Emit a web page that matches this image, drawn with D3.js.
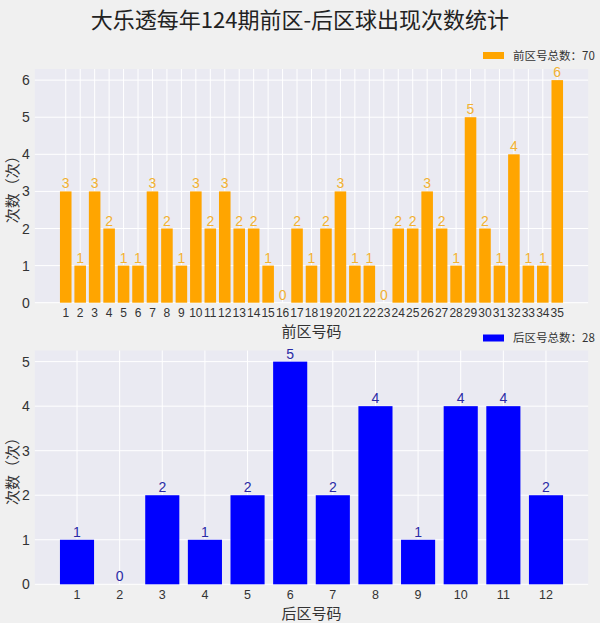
<!DOCTYPE html>
<html><head><meta charset="utf-8">
<script src="https://cdn.jsdelivr.net/npm/d3@7"></script>
<style>
html,body{margin:0;padding:0;background:#f0f0f0;}
svg{display:block;font-family:"Noto Sans CJK SC","Noto Sans",sans-serif;}
.num{font-family:"Liberation Sans","Noto Sans",sans-serif;}
</style></head>
<body>
<svg id="chart" width="600" height="623"></svg>
<script>
const title = "大乐透每年124期前区-后区球出现次数统计";
const frontNumbers = d3.range(1, 36);
const frontCounts = [3,1,3,2,1,1,3,2,1,3,2,3,2,2,1,0,2,1,2,3,1,1,0,2,2,3,2,1,5,2,1,4,1,1,6];
const backNumbers = d3.range(1, 13);
const backCounts = [1,0,2,1,2,5,2,4,1,4,4,2];
const frontYTicks = [0,1,2,3,4,5,6];
const backYTicks = [0,1,2,3,4,5];
const frontLegend = "前区号总数：70";
const backLegend = "后区号总数：28";
const frontXLabel = "前区号码";
const backXLabel = "后区号码";
const yLabel = "次数（次）";

const svg = d3.select("#chart");
svg.append("rect").attr("width",600).attr("height",623).attr("fill","#f0f0f0");
svg.append("text").attr("x",300).attr("y",28).attr("text-anchor","middle")
  .attr("font-size",22).attr("fill","#222").text(title);

function panel(cfg){
  const {nums, counts, yTicks, top, bottom, left, right, color, labelColor, legend, legendY, xLabel, xLabelY, tickY, tickSize, ymax} = cfg;
  const g = svg.append("g");
  const n = nums.length;
  const lo = 1 - 0.4, hi = n + 0.4, m = (hi - lo) * 0.05;
  const x = d3.scaleLinear().domain([lo - m, hi + m]).range([left, right]);
  const y = d3.scaleLinear().domain([0, ymax * 1.05]).range([bottom, top]);
  g.append("rect").attr("x",left).attr("y",top).attr("width",right-left).attr("height",bottom-top).attr("fill","#eaeaf2");
  g.selectAll(".hg").data(yTicks).join("line")
    .attr("x1",left).attr("x2",right).attr("y1",d=>y(d)).attr("y2",d=>y(d))
    .attr("stroke","#fff").attr("stroke-width",1);
  g.selectAll(".vg").data(nums).join("line")
    .attr("x1",d=>x(d)).attr("x2",d=>x(d)).attr("y1",top).attr("y2",bottom)
    .attr("stroke","#fff").attr("stroke-width",1);
  const bw = x(0.8) - x(0);
  g.selectAll(".bar").data(counts).join("rect")
    .attr("x",(d,i)=>x(nums[i]) - bw/2).attr("width",bw)
    .attr("y",d=>y(d)).attr("height",d=>y(0)-y(d)).attr("fill",color);
  g.selectAll(".vl").data(counts).join("text").attr("class","num")
    .attr("x",(d,i)=>x(nums[i])).attr("y",d=>y(d)-3)
    .attr("text-anchor","middle").attr("font-size",14).attr("fill",labelColor).text(d=>d);
  g.selectAll(".yt").data(yTicks).join("text").attr("class","num")
    .attr("x",left-5).attr("y",d=>y(d)).attr("dy","0.36em").attr("text-anchor","end")
    .attr("font-size",14).attr("fill","#333").text(d=>d);
  g.selectAll(".xt").data(nums).join("text").attr("class","num")
    .attr("x",d=>x(d)).attr("y",tickY).attr("dy","0.36em").attr("text-anchor","middle")
    .attr("font-size",tickSize).attr("fill","#333").text(d=>d);
  g.append("text").attr("x",(left+right)/2).attr("y",xLabelY).attr("dy","0.35em")
    .attr("text-anchor","middle").attr("font-size",15).attr("fill","#333").text(xLabel);
  g.append("text").attr("transform",`translate(13,${(top+bottom)/2}) rotate(-90)`)
    .attr("dy","0.35em").attr("text-anchor","middle").attr("font-size",15).attr("fill","#333").text(yLabel);
  g.append("rect").attr("x",483).attr("y",legendY-3.5).attr("width",21).attr("height",7).attr("fill",color);
  g.append("text").attr("x",513).attr("y",legendY).attr("dy","0.35em").attr("font-size",11.5).attr("fill","#333").text(legend);
}

panel({nums:frontNumbers, counts:frontCounts, yTicks:frontYTicks, top:69, bottom:302.7, left:34.8, right:588.2,
  color:"#ffa500", labelColor:"#f2b233", legend:frontLegend, legendY:55.5, xLabel:frontXLabel, xLabelY:332, tickY:313, tickSize:12, ymax:6});
panel({nums:backNumbers, counts:backCounts, yTicks:backYTicks, top:350.5, bottom:584.3, left:34.8, right:588.2,
  color:"#0000ff", labelColor:"#2a2aa6", legend:backLegend, legendY:338, xLabel:backXLabel, xLabelY:613.5, tickY:594, tickSize:12.5, ymax:5});
</script>
</body></html>
